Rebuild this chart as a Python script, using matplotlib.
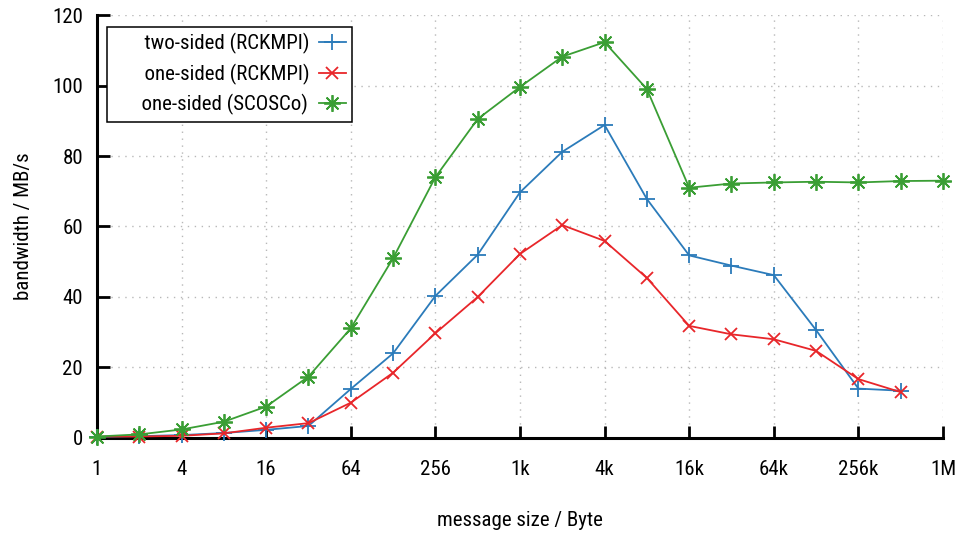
import matplotlib
matplotlib.use("Agg")
import matplotlib.pyplot as plt
from matplotlib import font_manager
from matplotlib.ticker import FixedLocator, NullLocator

installed = {f.name for f in font_manager.fontManager.ttflist}
preferred = ['Roboto Condensed', 'Liberation Sans Narrow', 'Open Sans Condensed',
             'Noto Sans Display', 'Roboto']
family = [f for f in preferred if f in installed] + ['DejaVu Sans']
plt.rcParams['font.family'] = family

# message sizes in bytes: 1 .. 512k
exponents = list(range(20))
sizes = [2 ** k for k in exponents]

two_sided_rckmpi = [0.3, 0.5, 0.8, 1.4, 2.3, 3.4, 13.9, 24.0, 40.3, 52.0,
                    69.7, 81.2, 88.8, 67.8, 51.8, 48.9, 46.2, 30.6, 14.0, 13.4]
one_sided_rckmpi = [0.4, 0.4, 0.6, 1.3, 2.9, 4.2, 10.0, 18.5, 29.7, 40.0,
                    52.2, 60.4, 55.9, 45.4, 31.8, 29.4, 28.0, 24.7, 16.7, 13.0]
one_sided_scosco = [0.4, 1.0, 2.4, 4.6, 8.9, 17.4, 31.1, 51.0, 74.0, 90.5,
                    99.6, 108.2, 112.3, 99.0, 71.0, 72.2, 72.5, 72.7, 72.5, 72.9]
scosco_sizes = sizes + [2 ** 20]
one_sided_scosco = one_sided_scosco + [73.0]

xtick_values = [4 ** k for k in range(11)]
xtick_labels = ['1', '4', '16', '64', '256', '1k', '4k', '16k', '64k', '256k', '1M']
ytick_values = [0, 20, 40, 60, 80, 100, 120]

fig = plt.figure(figsize=(9.64, 5.38), dpi=100)
ax = fig.add_axes([0.1006, 0.186, 0.8776, 0.786])

blue = '#2b7bba'
red = '#e8262a'
green = '#3a9e34'

# leading spaces widen the key box on the left, like a gnuplot key
lead = '      '
ax.plot(sizes, two_sided_rckmpi, color=blue, lw=1.3, marker='+', ms=11,
        mew=1.3, label=lead + 'two-sided (RCKMPI)', clip_on=False, zorder=3)
ax.plot(sizes, one_sided_rckmpi, color=red, lw=1.3, marker='x', ms=9,
        mew=1.3, label=lead + 'one-sided (RCKMPI)', clip_on=False, zorder=3)
ax.plot(scosco_sizes, one_sided_scosco, color=green, lw=1.3, marker=(8, 2, 0),
        ms=12, mew=1.3, label=lead + 'one-sided (SCOSCo)', clip_on=False,
        zorder=3)

ax.set_xscale('log', base=2)
ax.set_xlim(1, 2 ** 20)
ax.set_ylim(0, 120)
ax.xaxis.set_major_locator(FixedLocator(xtick_values))
ax.xaxis.set_minor_locator(NullLocator())
ax.set_xticklabels(xtick_labels)
ax.set_yticks(ytick_values)

for side in ('top', 'right'):
    ax.spines[side].set_visible(False)
for side in ('left', 'bottom'):
    ax.spines[side].set_linewidth(2.2)

ax.tick_params(axis='both', direction='in', length=9, width=2.0,
               labelsize=15, top=False, right=False)
ax.tick_params(axis='x', pad=16)
ax.tick_params(axis='y', pad=10)

ax.grid(True, color='#b8b8b8', linestyle=(0, (1, 4)), linewidth=1.0)
ax.set_axisbelow(True)

ax.set_xlabel('message size / Byte', fontsize=15, labelpad=23)
ax.set_ylabel('bandwidth / MB/s', fontsize=15, labelpad=14)

leg = ax.legend(loc='upper left', bbox_to_anchor=(0.0118, 0.9716),
                markerfirst=False, fontsize=15, frameon=True, fancybox=False,
                edgecolor='black', framealpha=1.0, handlelength=1.3,
                borderpad=0.3, labelspacing=0.45, handletextpad=0.5,
                borderaxespad=0.0)
leg.get_frame().set_linewidth(1.1)

# right-justify the key texts against the samples
fig.canvas.draw()
renderer = fig.canvas.get_renderer()
widths = [t.get_window_extent(renderer).width for t in leg.get_texts()]
widest = max(widths)
for t, w in zip(leg.get_texts(), widths):
    t.set_x(widest - w)

fig.savefig('out.png', dpi=100)
